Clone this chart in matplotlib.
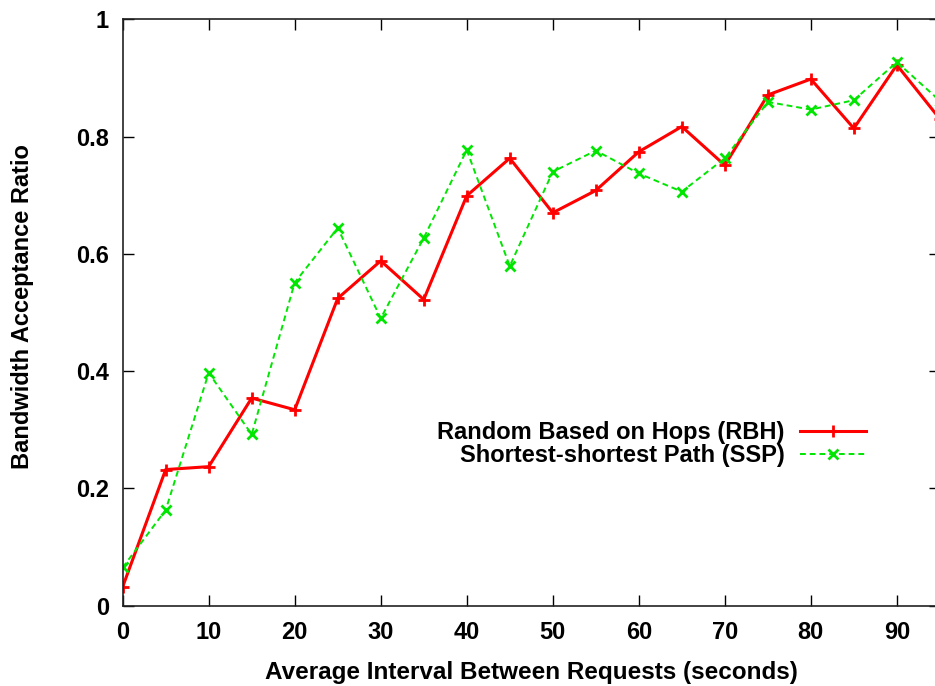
import matplotlib
matplotlib.use("Agg")
import matplotlib.pyplot as plt

# Bandwidth acceptance ratio vs average interval between requests
interval = [0, 5, 10, 15, 20, 25, 30, 35, 40, 45, 50, 55, 60, 65, 70, 75, 80, 85, 90, 95]
rbh = [0.032, 0.232, 0.237, 0.354, 0.334, 0.524, 0.588, 0.522, 0.699, 0.763,
       0.670, 0.708, 0.774, 0.817, 0.751, 0.871, 0.898, 0.814, 0.922, 0.830]
ssp = [0.065, 0.163, 0.397, 0.292, 0.551, 0.644, 0.490, 0.627, 0.777, 0.579,
       0.740, 0.776, 0.737, 0.706, 0.763, 0.859, 0.846, 0.862, 0.927, 0.861]

plt.rcParams['font.family'] = ['Liberation Sans', 'DejaVu Sans']
plt.rcParams['font.weight'] = 'bold'

fig = plt.figure(figsize=(9.35, 6.86), dpi=100)
ax = fig.add_axes([0.1312, 0.1172, 0.874, 0.8547])

ax.plot(interval, rbh, color='#ff0000', linewidth=2.2, marker='+',
        markersize=8, markeredgewidth=2, label='Random Based on Hops (RBH)')
ax.plot(interval, ssp, color='#00e600', linewidth=1.4, linestyle=(0, (3, 2)),
        marker='x', markersize=7, markeredgewidth=2,
        label='Shortest-shortest Path (SSP)')

ax.set_xlim(0, 95)
ax.set_ylim(0, 1)
ax.set_xticks(range(0, 100, 10))
ax.set_xticklabels([str(v) for v in range(0, 100, 10)])
ax.set_yticks([0, 0.2, 0.4, 0.6, 0.8, 1])
ax.set_yticklabels(['0', '0.2', '0.4', '0.6', '0.8', '1'])
ax.tick_params(direction='in', length=8, width=1, top=True, right=True,
               labelsize=17)
ax.tick_params(axis='x', pad=11)
ax.tick_params(axis='y', pad=10)
for s in ax.spines.values():
    s.set_linewidth(1.2)
    s.set_color('#222222')

ax.set_xlabel('Average Interval Between Requests (seconds)', fontsize=17.5,
              fontweight='bold', labelpad=12)
ax.set_ylabel('Bandwidth Acceptance Ratio', fontsize=17, fontweight='bold')
ax.yaxis.set_label_coords(-0.108, 0.51)

ax.legend(loc='center right', bbox_to_anchor=(0.924, 0.276), frameon=False,
          markerfirst=False, fontsize=17, handlelength=2.8, handletextpad=0.65,
          labelspacing=0.0, borderpad=0)
for t in ax.get_legend().get_texts():
    t.set_ha('right')

fig.savefig('out.png', dpi=100)
